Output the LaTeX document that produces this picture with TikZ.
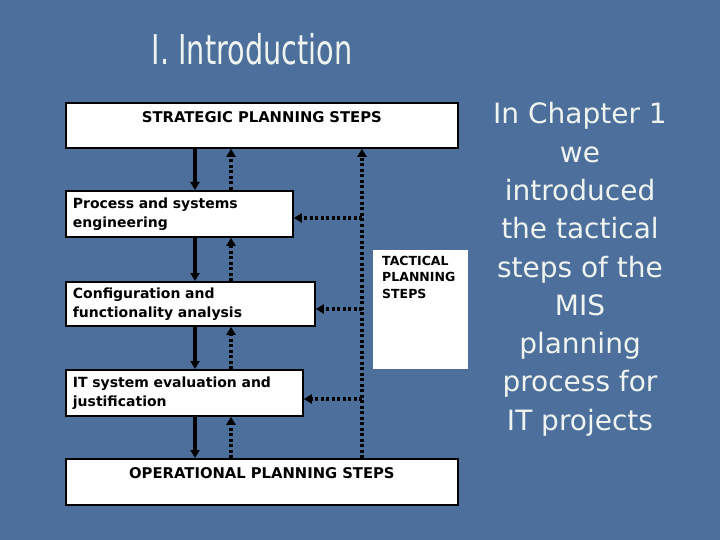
\documentclass[tikz,border=0pt]{standalone}
\usepackage{fontspec}
\setmainfont{DejaVu Sans}
\usetikzlibrary{arrows.meta,positioning}
\definecolor{slideblue}{RGB}{76,111,155}
\definecolor{slidetext}{RGB}{240,244,240}
\begin{document}
\begin{tikzpicture}[x=1pt,y=-1pt,
  stepbox/.style={draw,fill=white,line width=1.8pt,anchor=north west,inner sep=0pt},
  midbox/.style={stepbox,inner xsep=7pt,align=left,font=\bfseries\fontsize{14}{19}\selectfont},
  solidarrow/.style={line width=3.2pt,-{Triangle[length=8pt,width=9pt]}},
  dotarrow/.style={line width=3.2pt,dash pattern=on 3pt off 2.5pt,-{Triangle[length=8pt,width=9pt]}},
  slidefont/.style={text=slidetext,font=\fontsize{28}{38.3}\selectfont}
  ]
    \fill[slideblue] (0,0) rectangle (720,540);
    % title and side text
    \node[slidefont,font=\fontsize{41}{41}\selectfont,xscale=0.7] (title) at (252,49) {I. Introduction};
    \node[slidefont,align=center,anchor=north] (side) at (580,99)
      {In Chapter 1\\we\\introduced\\the tactical\\steps of the\\MIS\\planning\\process for\\IT projects};
    % boxes
    \node[stepbox,minimum width=392pt,text height=20pt,text depth=25pt,text width=392pt,align=center,
      font=\bfseries\fontsize{14.8}{18}\selectfont] (strat) at (65,102) {STRATEGIC PLANNING STEPS};
    \node[midbox,text width=213pt,minimum height=46pt] (proc) at (65,190) {Process and systems\\engineering};
    \node[midbox,text width=235pt,minimum height=44pt] (conf) at (65,281) {Configuration and\\functionality analysis};
    \node[midbox,text width=223pt,minimum height=46pt] (itsys) at (65,369) {IT system evaluation and\\justification};
    \node[stepbox,minimum width=392pt,text height=20pt,text depth=26pt,text width=392pt,align=center,
      font=\bfseries\fontsize{14.8}{18}\selectfont] (oper) at (65,458) {OPERATIONAL PLANNING STEPS};
    \node[fill=white,anchor=north west,minimum width=95pt,minimum height=119pt,inner sep=0pt] (tact) at (373,250) {};
    \node[anchor=north west,align=left,inner sep=0pt,font=\bfseries\fontsize{12.5}{16.5}\selectfont] (tacttext)
      at (382,256) {TACTICAL\\PLANNING\\STEPS};
    % downward flow
    \draw[solidarrow] (strat.south -| 195,0) -- (proc.north -| 195,0);
    \draw[solidarrow] (proc.south -| 195,0) -- (conf.north -| 195,0);
    \draw[solidarrow] (conf.south -| 195,0) -- (itsys.north -| 195,0);
    \draw[solidarrow] (itsys.south -| 195,0) -- (oper.north -| 195,0);
    % feedback
    \draw[dotarrow] (proc.north -| 231,0) -- (strat.south -| 231,0);
    \draw[dotarrow] (conf.north -| 231,0) -- (proc.south -| 231,0);
    \draw[dotarrow] (itsys.north -| 231,0) -- (conf.south -| 231,0);
    \draw[dotarrow] (oper.north -| 231,0) -- (itsys.south -| 231,0);
    % tactical link
    \coordinate (tbot) at (oper.north -| 362,0);
    \draw[dotarrow] (tbot) -- (strat.south -| 362,0);
    \draw[dotarrow] (362,218) -- (proc.east |- 0,218);
    \draw[dotarrow] (362,309) -- (conf.east |- 0,309);
    \draw[dotarrow] (362,399) -- (itsys.east |- 0,399);
\end{tikzpicture}
\end{document}
